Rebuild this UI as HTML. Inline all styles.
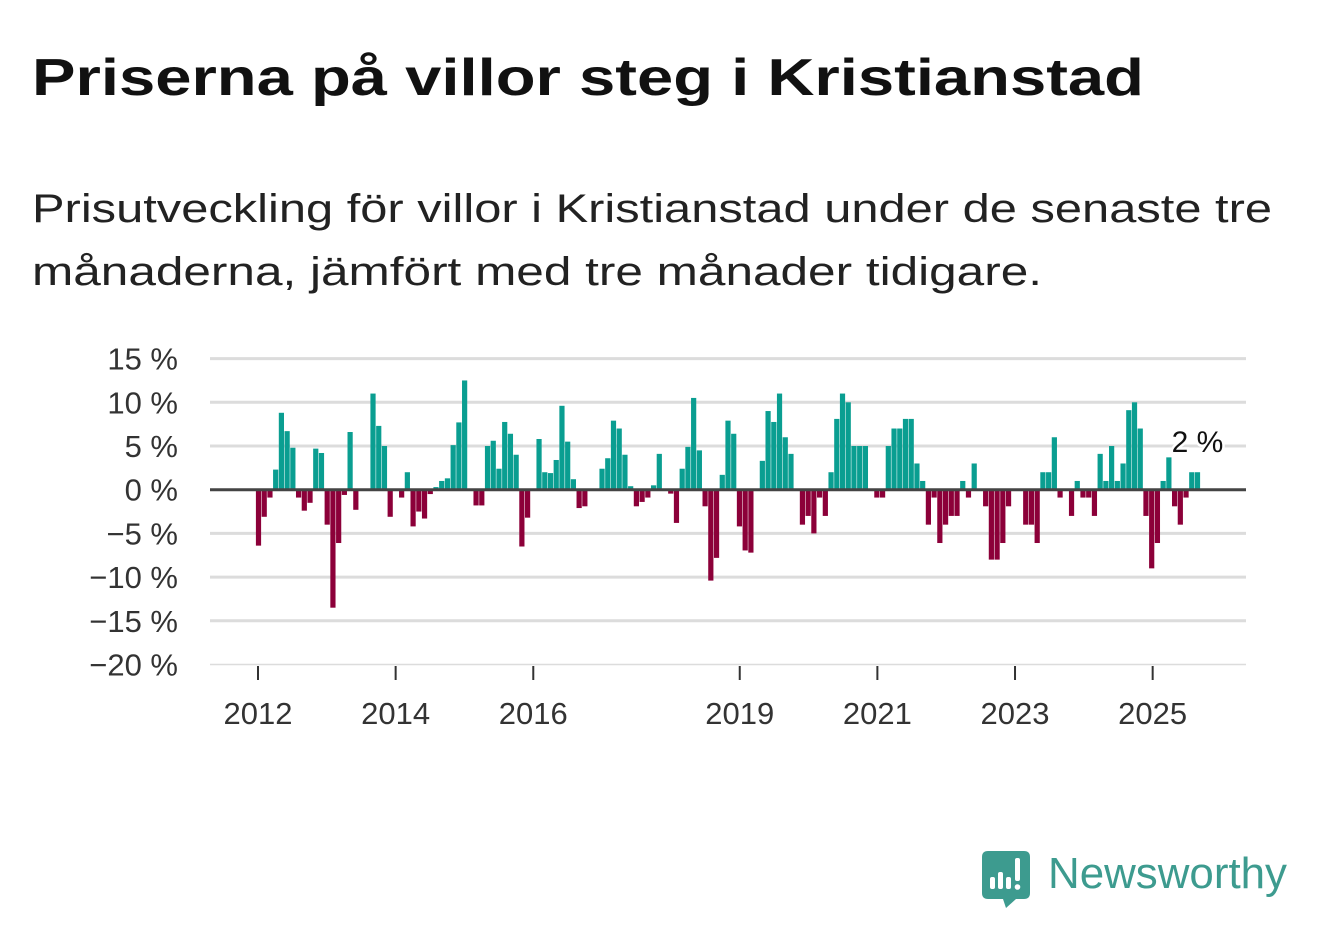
<!DOCTYPE html>
<html><head><meta charset="utf-8">
<style>
html,body{margin:0;padding:0;background:#fff;}
svg{display:block;font-family:"Liberation Sans",sans-serif;}
</style></head>
<body>
<svg id="chart" width="1322" height="939" viewBox="0 0 1322 939" xmlns="http://www.w3.org/2000/svg">
<text x="32" y="95" font-size="52" font-weight="bold" fill="#111" textLength="1112" lengthAdjust="spacingAndGlyphs">Priserna på villor steg i Kristianstad</text>
<text x="32" y="222" font-size="40" fill="#222" textLength="1240" lengthAdjust="spacingAndGlyphs">Prisutveckling för villor i Kristianstad under de senaste tre</text>
<text x="32" y="285" font-size="40" fill="#222" textLength="1010" lengthAdjust="spacingAndGlyphs">månaderna, jämfört med tre månader tidigare.</text>
<g id="grid"></g>
<g id="ylabels"></g>
<g id="bars"></g>
<g id="xaxis"></g>
<g>
<path d="M988 851 H1024 Q1030 851 1030 857 V893 Q1030 899 1024 899 H1016 L1006 908 L1003 899 H988 Q982 899 982 893 V857 Q982 851 988 851 Z" fill="#3d9b8f"/>
<rect x="990" y="877" width="5" height="12" rx="2" fill="#fff"/>
<rect x="998" y="872" width="5" height="17" rx="2" fill="#fff"/>
<rect x="1006" y="877" width="5" height="12" rx="2" fill="#fff"/>
<rect x="1015" y="858" width="5" height="23" rx="2" fill="#fff"/>
<circle cx="1017.5" cy="887" r="2.8" fill="#fff"/>
<text x="1048" y="888" font-size="44" fill="#3d9b8f" textLength="239" lengthAdjust="spacingAndGlyphs">Newsworthy</text>
</g>
</svg>
<script>
const values = [-6.4,-3.1,-0.9,2.3,8.8,6.7,4.8,-0.9,-2.4,-1.5,4.7,4.2,-4,-13.5,-6.1,-0.6,6.6,-2.3,0,0,
11,7.3,5.0,-3.1,0,-0.9,2.0,-4.2,-2.5,-3.3,-0.5,0.3,1.0,1.3,5.1,7.7,12.5,0,-1.8,-1.8,
5.0,5.6,2.4,7.75,6.4,4.0,-6.5,-3.2,0,5.8,2.0,1.9,3.4,9.6,5.5,1.2,-2.1,-1.9,0,0,
2.4,3.6,7.9,7.0,4.0,0.4,-1.9,-1.4,-0.9,0.5,4.1,0,-0.45,-3.8,2.4,4.9,10.5,4.5,-1.9,-10.4,
-7.8,1.7,7.9,6.4,-4.2,-6.95,-7.2,0,3.3,9.0,7.75,11.0,6.0,4.1,0,-4.0,-3.0,-5.0,-0.9,-3.0,
2.0,8.1,11.0,10.0,5.0,5.0,5.0,0,-0.9,-0.9,5.0,7.0,7.0,8.1,8.1,3.0,1.0,-4.0,-0.9,-6.1,
-4.0,-3.0,-3.0,1.0,-0.9,3.0,0,-1.9,-8.0,-8.0,-6.1,-1.9,0,0,-4.0,-4.0,-6.1,2.0,2.0,6.0,
-0.9,0,-3.0,1.0,-0.9,-0.9,-3.0,4.1,1.0,5.0,1.0,3.0,9.1,10.0,7.0,-3.0,-9.0,-6.1,1.0,3.7,
-1.9,-4.0,-0.9,2.0,2.0];
const yTicks = [15,10,5,0,-5,-10,-15,-20];
const yTickLabels = ["15 %","10 %","5 %","0 %","\u22125 %","\u221210 %","\u221215 %","\u221220 %"];
const xTickYears = [2012,2014,2016,2019,2021,2023,2025];
const lastLabel = "2 %";

const NS="http://www.w3.org/2000/svg";
const y = v => 489.7 - v*8.74;
const step = 939/164;
const x = i => 258.5 + i*step;
const yearX = yr => 258 + (yr-2012)*12*5.735;
function mk(tag, parent, attrs){const e=document.createElementNS(NS,tag);for(const k in attrs)e.setAttribute(k,attrs[k]);parent.appendChild(e);return e;}
const grid=document.getElementById('grid'), yl=document.getElementById('ylabels'), bars=document.getElementById('bars'), xa=document.getElementById('xaxis');
yTicks.forEach((t,k)=>{
  if(t!==0){
    const l=mk('line',grid,{x1:210,x2:1246,y1:y(t),y2:y(t),stroke:'#dcdcdc','stroke-width':t===-20?1.5:3});
    
    
  }
  const tx=mk('text',yl,{x:178,y:y(t)+11,'font-size':31,fill:'#333','text-anchor':'end'});
  tx.textContent=yTickLabels[k];
  
  
});
values.forEach((v,i)=>{
  if(v===0) return;
  const r=mk('rect',bars,{x:x(i)-2.6,width:5.2,y:Math.min(y(v),y(0)),height:Math.abs(y(v)-y(0)),fill:v>0?'#0a9e91':'#8c0039'});
  
  
});
const z=mk('line',bars,{x1:210,x2:1246,y1:y(0),y2:y(0),stroke:'#444','stroke-width':3});


const li=values.length-1;
const lb=mk('text',bars,{x:x(li),y:y(values[li])-20,'font-size':30,fill:'#111','text-anchor':'middle',stroke:'#fff','stroke-width':5,'paint-order':'stroke'});
lb.textContent=lastLabel;


xTickYears.forEach(yr=>{
  const t=mk('line',xa,{x1:yearX(yr),x2:yearX(yr),y1:666,y2:680,stroke:'#333','stroke-width':2});
  
  
  const tx=mk('text',xa,{x:yearX(yr),y:724,'font-size':31,fill:'#333','text-anchor':'middle'});
  tx.textContent=yr;
  
  
});
</script>
</body></html>
